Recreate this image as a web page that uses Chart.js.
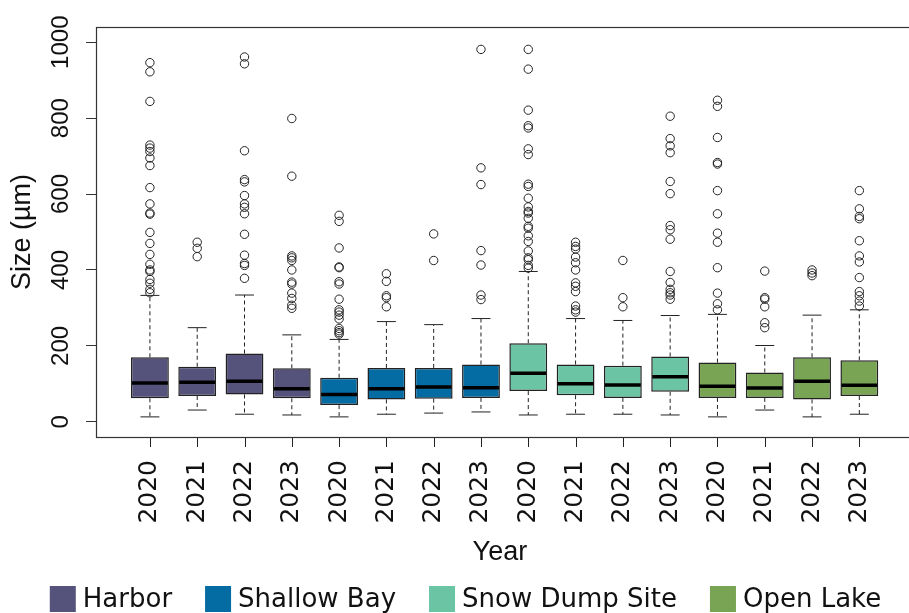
<!DOCTYPE html>
<html>
<head>
<meta charset="utf-8">
<title>Particle size by site and year</title>
<script src="https://cdn.jsdelivr.net/npm/chart.js@4.4.1/dist/chart.umd.min.js"></script>
<style>
  html, body { margin: 0; padding: 0; background: #fff; overflow: hidden; }
  #wrap { width: 909px; height: 613px; }
</style>
</head>
<body>
<div id="wrap"><canvas id="size-chart"></canvas></div>
<script>
// --- Data: one box per site and year, in site order ---
const sites = ['Harbor', 'Shallow Bay', 'Snow Dump Site', 'Open Lake'];
const siteColors = ['#55527b', '#046ba3', '#6bc4a4', '#79a453'];
const years = ['2020', '2021', '2022', '2023'];

const lowerWhisker = [13, 31, 20, 18, 13, 20, 23, 26, 18, 20, 20, 18, 13, 31, 13, 20];
const q1 = [62, 68, 72, 62, 44, 59, 61, 63, 81, 70, 63, 79, 63, 63, 59, 68];
const median = [102, 104, 107, 87, 72, 87, 92, 90, 128, 100, 97, 119, 94, 89, 107, 96];
const q3 = [170, 145, 180, 141, 116, 142, 142, 151, 207, 151, 148, 172, 156, 130, 170, 162];
const upperWhisker = [333, 248, 334, 229, 217, 264, 256, 272, 396, 272, 267, 280, 283, 201, 281, 295];

const outliers = [
    [946, 922, 844, 729, 721, 712, 695, 675, 617, 574, 550, 547, 499, 470, 441, 415, 400, 396, 375, 365, 349, 340],
    [473, 457, 435],
    [961, 943, 714, 638, 632, 596, 574, 565, 548, 494, 439, 417, 412, 378],
    [799, 647, 437, 432, 425, 400, 368, 363, 339, 325, 307, 299],
    [544, 528, 458, 408, 406, 369, 363, 323, 295, 289, 281, 271, 246, 240, 235, 231],
    [390, 370, 332, 327, 303],
    [495, 425],
    [981, 669, 625, 451, 413, 334, 322],
    [981, 929, 821, 780, 774, 719, 704, 626, 620, 589, 566, 554, 550, 536, 515, 510, 490, 475, 450, 432, 427, 412, 405],
    [473, 462, 455, 434, 419, 400, 366, 357, 343, 305, 295, 289],
    [425, 327, 303],
    [805, 746, 727, 709, 633, 601, 517, 506, 481, 396, 367, 349, 340, 334, 323],
    [847, 831, 749, 683, 679, 609, 548, 497, 473, 406, 339, 311, 295],
    [397, 327, 323, 303, 261, 248],
    [400, 392, 385],
    [609, 561, 541, 535, 477, 437, 421, 380, 343, 332, 318, 305]
];

const yTicks = [0, 200, 400, 600, 800, 1000];
const xLabels = sites.flatMap(() => years);

Chart.defaults.font.family = '"Liberation Sans", Arial, sans-serif';
Chart.defaults.color = '#111';

// whiskers (dashed), caps and median lines drawn on top of the boxes
const boxWhiskers = {
    id: 'boxWhiskers',
    afterDatasetsDraw(chart) {
        const { ctx, scales: { x, y } } = chart;
        const seg = (x1, y1, x2, y2) => {
            ctx.beginPath();
            ctx.moveTo(x1, y1);
            ctx.lineTo(x2, y2);
            ctx.stroke();
        };
        ctx.save();
        sites.forEach((site, s) => {
            chart.getDatasetMeta(s).data.forEach((bar, j) => {
                const i = s * years.length + j;
                const cx = x.getPixelForValue(i + 1);
                const half = bar.width / 2;
                const yHi = y.getPixelForValue(upperWhisker[i]);
                const yLo = y.getPixelForValue(lowerWhisker[i]);

                ctx.strokeStyle = '#222';
                ctx.lineWidth = 1;
                ctx.setLineDash([4, 3]);
                seg(cx, y.getPixelForValue(q3[i]), cx, yHi);
                seg(cx, y.getPixelForValue(q1[i]), cx, yLo);
                ctx.setLineDash([]);
                seg(cx - half / 2, yHi, cx + half / 2, yHi);
                seg(cx - half / 2, yLo, cx + half / 2, yLo);

                const ym = y.getPixelForValue(median[i]);
                ctx.strokeStyle = '#000';
                ctx.lineWidth = 3.5;
                seg(cx - half + 1, ym, cx + half - 1, ym);
            });
        });
        ctx.restore();
    }
};

// plot frame (open on the right where the canvas ends) and the x tick marks
const plotFrame = {
    id: 'plotFrame',
    afterDraw(chart) {
        const { ctx, chartArea: a, scales: { x } } = chart;
        ctx.save();
        ctx.strokeStyle = '#333';
        ctx.lineWidth = 1.2;
        ctx.strokeRect(a.left + 0.5, a.top + 0.5, a.right - a.left + 20, a.bottom - a.top);
        ctx.strokeStyle = '#222';
        ctx.lineWidth = 1;
        xLabels.forEach((lbl, i) => {
            const px = Math.round(x.getPixelForValue(i + 1)) + 0.5;
            ctx.beginPath();
            ctx.moveTo(px, a.bottom + 1);
            ctx.lineTo(px, a.bottom + 10);
            ctx.stroke();
        });
        ctx.restore();
    }
};

// one-row legend under the axis title
const siteLegend = {
    id: 'siteLegend',
    afterDraw(chart) {
        const ctx = chart.ctx;
        const box = 26, gap = 7, spacing = 33;
        ctx.save();
        ctx.font = '26px "DejaVu Sans", Verdana, sans-serif';
        ctx.textBaseline = 'middle';
        ctx.fillStyle = '#111';
        const widths = sites.map(t => ctx.measureText(t).width);
        const total = widths.reduce((sum, w) => sum + box + gap + w, 0) + spacing * (sites.length - 1);
        let x = chart.width / 2 + 11 - total / 2;
        const yc = chart.height - 14;
        sites.forEach((label, k) => {
            ctx.fillStyle = siteColors[k];
            ctx.fillRect(x, yc - box / 2, box, box);
            ctx.fillStyle = '#111';
            ctx.fillText(label, x + box + gap, yc + 1);
            x += box + gap + widths[k] + spacing;
        });
        ctx.restore();
    }
};

const boxSets = sites.map((site, s) => ({
    type: 'bar',
    label: site,
    data: years.map((yr, j) => {
        const i = s * years.length + j;
        return { x: i + 1, y: [q1[i], q3[i]] };
    }),
    backgroundColor: siteColors[s],
    borderColor: '#222',
    borderWidth: 1.5,
    borderSkipped: false,
    grouped: false,
    barPercentage: 0.8,
    categoryPercentage: 1
}));

const outlierSet = {
    type: 'scatter',
    label: 'outliers',
    data: outliers.flatMap((vals, i) => vals.map(v => ({ x: i + 1, y: v }))),
    pointStyle: 'circle',
    pointRadius: 4.2,
    pointBorderWidth: 1,
    pointBorderColor: '#222',
    pointBackgroundColor: 'rgba(0,0,0,0)',
    showLine: false
};

new Chart(document.getElementById('size-chart'), {
    type: 'bar',
    data: { datasets: [...boxSets, outlierSet] },
    options: {
        responsive: true,
        maintainAspectRatio: false,
        animation: false,
        layout: { padding: { top: 27, right: 0, bottom: 0, left: 0 } },
        plugins: {
            legend: { display: false },
            tooltip: { enabled: false }
        },
        scales: {
            x: {
                type: 'linear',
                offset: false,
                min: -0.14,
                max: 16.94,
                afterBuildTicks: axis => { axis.ticks = xLabels.map((_, i) => ({ value: i + 1 })); },
                afterFit: axis => { axis.height = 176; },
                grid: { offset: false, display: false },
                border: { display: false },
                ticks: {
                    minRotation: 90,
                    maxRotation: 90,
                    padding: 15,
                    autoSkip: false,
                    font: { family: '"DejaVu Sans", Verdana, sans-serif', size: 25 },
                    callback: value => xLabels[value - 1]
                },
                title: {
                    display: true,
                    text: 'Year',
                    font: { size: 27 },
                    padding: { top: 0, bottom: 44 }
                }
            },
            y: {
                min: -40,
                max: 1040,
                afterBuildTicks: axis => { axis.ticks = yTicks.map(v => ({ value: v })); },
                afterFit: axis => { axis.width = 96; },
                grid: { drawOnChartArea: false, tickLength: 10, color: '#333' },
                border: { display: false },
                ticks: {
                    minRotation: 90,
                    maxRotation: 90,
                    crossAlign: 'center',
                    padding: -2,
                    font: { size: 24 },
                    callback: value => String(value)
                },
                title: {
                    display: true,
                    text: 'Size (µm)',
                    font: { size: 27 },
                    padding: { top: 6, bottom: 0 }
                }
            }
        }
    },
    plugins: [boxWhiskers, plotFrame, siteLegend]
});
</script>
</body>
</html>
